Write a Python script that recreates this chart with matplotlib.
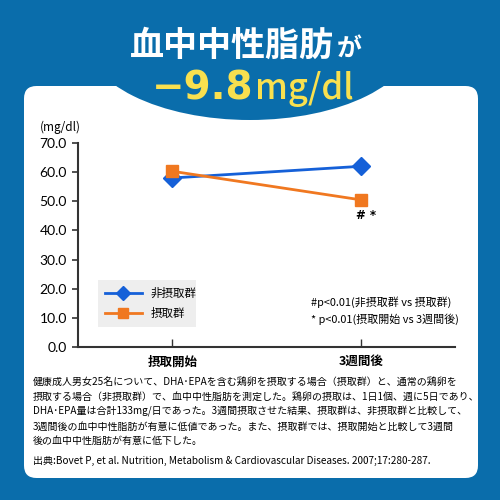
import matplotlib.pyplot as plt
from matplotlib.patches import FancyBboxPatch, Ellipse

plt.rcParams['font.family'] = ['Noto Sans CJK JP', 'DejaVu Sans']

# data
categories = ['摂取開始', '3週間後']
non_intake = [58.0, 62.0]     # 非摂取群
intake = [60.3, 50.5]         # 摂取群
yticks = [0, 10, 20, 30, 40, 50, 60, 70]

BLUE_BG = '#0a6dab'
W, H = 500, 500


def px(x, y):
    return x / W, 1 - y / H


fig = plt.figure(figsize=(5, 5), dpi=100)
fig.patch.set_facecolor(BLUE_BG)

# white panel + blue bump
panel = FancyBboxPatch(px(24, 478), 454 / W, 392 / H,
                       boxstyle='round,pad=0,rounding_size=0.025',
                       transform=fig.transFigure, facecolor='white',
                       edgecolor='none', zorder=-2)
fig.patches.append(panel)
bump = Ellipse(px(250, 38), 330 / W, 164 / H, transform=fig.transFigure,
               facecolor=BLUE_BG, edgecolor='none', zorder=-1)
fig.patches.append(bump)

# title
x, y = px(334, 56)
fig.text(x, y, '血中中性脂肪', color='white', fontsize=24.5, fontweight='bold',
         ha='right', va='baseline')
x, y = px(337, 56)
fig.text(x, y, 'が', color='white', fontsize=18, fontweight='bold',
         ha='left', va='baseline')
x, y = px(253, 99)
fig.text(x, y, '−9.8', color='#f9e04f', fontsize=28, fontweight='bold',
         ha='right', va='baseline', family=['DejaVu Sans'])
x, y = px(255, 99)
fig.text(x, y, 'mg/dl', color='#f9e04f', fontsize=25, fontweight='medium',
         ha='left', va='baseline', family=['Noto Sans CJK JP'])

# chart
ax = fig.add_axes([78 / W, 1 - 347 / H, (455 - 78) / W, 204 / H])
ax.set_facecolor('none')
xs = list(range(len(categories)))
ax.plot(xs, non_intake, color='#1560d8', lw=2, marker='D', ms=9,
        label='非摂取群', zorder=3)
ax.plot(xs, intake, color='#f07820', lw=2, marker='s', ms=9,
        label='摂取群', zorder=3)

ax.set_xlim(-0.5, 1.5)
ax.set_ylim(0, 70)
ax.set_yticks(yticks)
ax.set_yticklabels([f'{v:.1f}' for v in yticks], fontsize=10,
                   family=['Lato', 'DejaVu Sans'])
ax.set_xticks(xs)
ax.set_xticklabels(categories, fontsize=9, fontweight='bold')
ax.tick_params(axis='x', direction='in', length=6, width=1, pad=6,
               color='#333333')
ax.tick_params(axis='y', direction='out', length=4, width=1.2, pad=4,
               color='#333333')
for s in ['top', 'right']:
    ax.spines[s].set_visible(False)
for s in ['left', 'bottom']:
    ax.spines[s].set_linewidth(1.5)
    ax.spines[s].set_color('#333333')

leg = ax.legend(loc='lower left', bbox_to_anchor=(0.037, 0.07, 0.29, 0.22),
                mode='expand', fontsize=8.3, frameon=True, fancybox=False,
                handlelength=3.2, borderpad=0.6, labelspacing=0.6,
                markerscale=0.75)
leg.get_frame().set_facecolor('#eeeeee')
leg.get_frame().set_edgecolor('none')
leg.get_frame().set_alpha(1)

ax.text(1.03, 45, '# *', fontsize=8.5, fontweight='bold', ha='center',
        va='center', family=['DejaVu Sans'])
ax.text(0.735, 15.5, '#p<0.01(非摂取群 vs 摂取群)', fontsize=7.9,
        ha='left', va='center')
ax.text(0.735, 9.5, '* p<0.01(摂取開始 vs 3週間後)', fontsize=7.9,
        ha='left', va='center')

x, y = px(60, 127)
fig.text(x, y, '(mg/dl)', fontsize=8.5, ha='center', va='center')

# footnote
note = ('健康成人男女25名について、DHA･EPAを含む鶏卵を摂取する場合（摂取群）と、通常の鶏卵を\n'
        '摂取する場合（非摂取群）で、血中中性脂肪を測定した。鶏卵の摂取は、1日1個、週に5日であり、\n'
        'DHA･EPA量は合計133mg/日であった。3週間摂取させた結果、摂取群は、非摂取群と比較して、\n'
        '3週間後の血中中性脂肪が有意に低値であった。また、摂取群では、摂取開始と比較して3週間\n'
        '後の血中中性脂肪が有意に低下した。')
x, y = px(33, 377)
fig.text(x, y, note, fontsize=7.2, ha='left', va='top', linespacing=1.55)
x, y = px(33, 461)
fig.text(x, y, '出典:Bovet P, et al. Nutrition, Metabolism & Cardiovascular Diseases. 2007;17:280-287.',
         fontsize=7.2, ha='left', va='center')

fig.savefig('out.png', dpi=100, facecolor=fig.get_facecolor())
